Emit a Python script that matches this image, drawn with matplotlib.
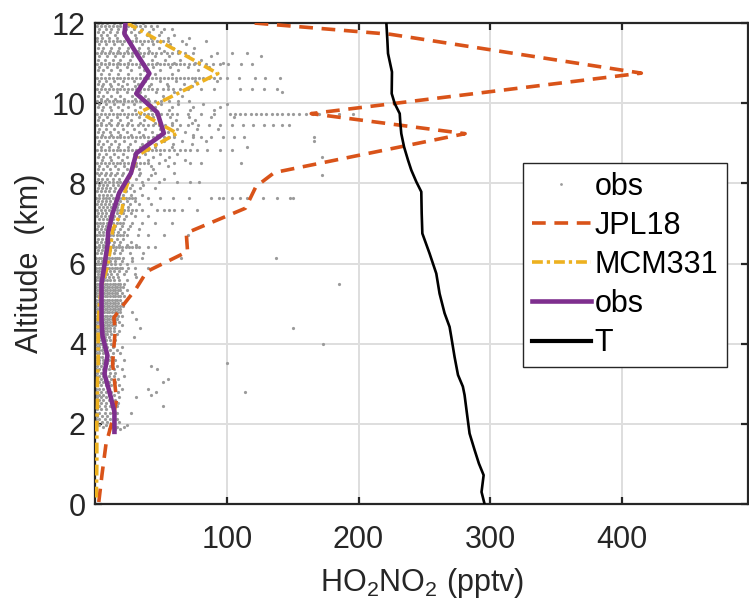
import numpy as np
import matplotlib
matplotlib.use('Agg')
import matplotlib.pyplot as plt
from matplotlib.lines import Line2D

plt.rcParams['font.family'] = ['Liberation Sans', 'DejaVu Sans']
plt.rcParams['mathtext.fontset'] = 'custom'
plt.rcParams['mathtext.rm'] = 'Liberation Sans'

# ---- model / obs profiles (x = HO2NO2 pptv, y = altitude km) ----
jpl_x = [121, 224, 415, 164, 281, 136, 122, 114, 69, 70, 39, 31, 21, 14, 15, 13, 16, 13, 8, 5, 2.5]
jpl_y = [12.0, 11.72, 10.75, 9.74, 9.24, 8.27, 7.92, 7.38, 6.76, 6.3, 5.8, 5.38, 4.96, 4.65, 4.33, 3.5, 2.6, 2.1, 1.5, 0.75, 0.05]

mcm_x = [24, 93, 33.5, 62, 32, 26, 22, 20, 13, 11, 9, 5, 3, 2, 2, 2, 1.5, 1.5, 1, 1, 1, 0.8, 0.5]
mcm_y = [12.0, 10.74, 9.77, 9.25, 8.7, 8.16, 7.76, 7.3, 6.84, 6.3, 5.9, 5.5, 5.0, 4.5, 4.0, 3.5, 3.0, 2.5, 2.0, 1.5, 1.0, 0.5, 0.1]

obs_x = [22.8, 22, 31, 41, 31, 47, 52, 31, 27, 18, 13, 9.5, 9.3, 7, 4.6, 4.6, 4.6, 5.3, 9.1, 6.8, 10.6, 14.4, 14.4]
obs_y = [12.0, 11.73, 11.25, 10.74, 10.24, 9.77, 9.25, 8.75, 8.26, 7.76, 7.25, 6.77, 6.5, 6.0, 5.5, 5.1, 4.6, 4.2, 3.7, 3.25, 2.8, 2.3, 1.8]

t_x = [221.1, 221.9, 222.4, 225.4, 225.2, 227.5, 231.3, 231.8, 232.5, 234.6, 237.6, 240.1, 243.9, 247.7,
       248.0, 248.5, 254.0, 259.1, 261.6, 265.4, 269.2, 270.5, 273.0, 275.6, 279.3, 280.6, 282.4, 284.4,
       288.2, 291.5, 295.1, 293.5, 295.8]
t_y = [12.03, 11.57, 11.24, 10.78, 10.24, 9.99, 9.74, 9.49, 9.24, 8.91, 8.58, 8.33, 8.04, 7.79,
       7.25, 6.75, 6.25, 5.75, 5.25, 4.76, 4.42, 4.17, 3.67, 3.22, 2.93, 2.72, 2.26, 1.76,
       1.35, 1.01, 0.72, 0.3, 0.0]

scatter_alt = [
    12.0, 11.92, 11.85, 11.78, 11.7, 11.62, 11.55, 11.47, 11.38, 11.3, 11.25, 11.17, 11.08, 11.0,
    10.97, 10.9, 10.82, 10.74, 10.64, 10.56, 10.48, 10.42, 10.35, 10.27, 10.18, 10.1, 10.06, 9.98,
    9.9, 9.82, 9.74, 9.66, 9.58, 9.5, 9.45, 9.36, 9.28, 9.2, 9.15, 9.06, 8.98, 8.9, 8.83, 8.74,
    8.66, 8.58, 8.52, 8.44, 8.36, 8.27, 8.2, 8.12, 8.04, 7.96, 7.88, 7.8, 7.72, 7.64, 7.56, 7.48,
    7.4, 7.34, 7.26, 7.18, 7.1, 7.02, 6.94, 6.86, 6.78, 6.7, 6.62, 6.54, 6.46, 6.42, 6.34, 6.26,
    6.15, 6.06, 5.98, 5.9, 5.82, 5.74, 5.66, 5.58, 5.5, 5.42, 5.34, 5.26, 5.18, 5.1, 5.02, 4.94,
    4.86, 4.78, 4.7, 4.62, 4.54, 4.46, 4.4, 4.32, 4.24, 4.16, 4.08, 4.0, 3.92, 3.84, 3.76, 3.68,
    3.6, 3.52, 3.45, 3.37, 3.28, 3.2, 3.12, 3.05, 2.97, 2.88, 2.8, 2.73, 2.68, 2.6, 2.52, 2.45,
    2.37, 2.28, 2.2, 2.12, 2.04, 1.98, 1.92, 1.86,
]
scatter_x = [
    [2, 5, 9, 14, 19, 24, 30, 36],
    [1, 4, 7, 10, 13, 16, 19, 22, 25, 28, 31, 34, 38, 42, 47],
    [3, 8, 12, 17, 23, 29, 35, 44, 52, 58],
    [2, 6, 11, 16, 21, 27, 33, 41, 50],
    [4, 9, 15, 22, 30, 39, 48, 60],
    [1, 5, 10, 16, 23, 31, 42, 55, 71],
    [1, 4, 7, 10, 13, 16, 19, 22, 25, 28, 31, 34, 37, 40, 43, 47, 51, 55, 66, 84],
    [3, 8, 14, 20, 27, 35, 44, 57, 69],
    [2, 6, 12, 18, 25, 33, 40, 48, 59, 75],
    [5, 11, 17, 24, 32, 41, 52, 63],
    [1, 4, 7, 10, 13, 16, 19, 22, 25, 28, 31, 34, 37, 40, 43, 46, 50, 54, 58, 63, 68, 74, 92, 104, 115],
    [3, 9, 15, 21, 28, 36, 45, 56, 70, 88, 126],
    [2, 7, 13, 19, 26, 34, 43, 53, 64, 80],
    [4, 10, 17, 25, 35, 47, 60, 76, 97],
    [1, 4, 7, 10, 13, 16, 19, 22, 25, 28, 31, 34, 37, 40, 43, 46, 49, 52, 55, 58, 61, 64, 67, 71, 75, 79, 84, 89, 95, 101, 111, 119],
    [3, 9, 16, 24, 33, 44, 57, 70, 86],
    [2, 6, 12, 19, 27, 37, 49, 63, 78],
    [4, 10, 17, 25, 34, 45, 58],
    [1, 4, 7, 10, 13, 16, 19, 22, 25, 28, 31, 34, 37, 40, 43, 46, 49, 52, 55, 58, 61, 64, 67, 70, 73, 76, 79, 82, 86, 90, 95, 100, 109, 121, 129, 140],
    [3, 8, 14, 21, 29, 38, 49, 61, 76, 92],
    [2, 6, 11, 17, 24, 32, 42, 54, 67],
    [5, 12, 20, 30, 41, 55, 73],
    [1, 4, 7, 10, 13, 16, 19, 22, 25, 28, 31, 34, 37, 40, 43, 47, 51, 55, 59, 64, 70, 80, 90, 110, 119, 128, 138],
    [3, 9, 16, 24, 34, 46, 60, 142],
    [2, 6, 12, 19, 28, 38, 51, 66],
    [4, 9, 15, 22, 30, 40, 52],
    [1, 4, 7, 10, 13, 16, 19, 22, 25, 28, 31, 34, 37, 41, 45, 50, 56, 63, 71],
    [3, 8, 14, 21, 29, 39, 50, 63, 82, 100],
    [2, 6, 11, 17, 25, 34, 45, 58, 74, 95],
    [5, 12, 20, 30, 42, 56, 72, 90],
    [1, 4, 7, 10, 13, 16, 19, 22, 25, 28, 31, 34, 37, 40, 43, 46, 50, 54, 58, 62, 70, 80, 90, 102, 106, 110, 114, 118, 122, 126, 130, 134, 138, 142, 146, 150, 155, 160, 165, 170, 185, 196],
    [3, 9, 16, 24, 33, 44, 57, 71, 88, 105],
    [2, 6, 12, 19, 27, 37, 48, 61, 76],
    [4, 10, 17, 25, 34, 45, 58, 73],
    [1, 4, 8, 12, 16, 20, 24, 28, 32, 36, 40, 44, 48, 53, 58, 64, 70, 78, 86, 95, 104, 112, 120, 128, 135, 142, 147],
    [3, 8, 14, 21, 29, 38, 49, 62, 77, 93],
    [2, 6, 11, 17, 24, 33, 43, 55, 68],
    [5, 12, 19, 27, 36, 47, 60, 74],
    [1, 4, 7, 10, 13, 16, 19, 22, 25, 28, 31, 34, 37, 40, 44, 48, 52, 56, 60, 74, 80, 88, 97, 105, 113, 166],
    [3, 9, 15, 22, 30, 40, 52, 66, 84, 166],
    [2, 6, 12, 18, 26, 35, 46, 59, 73],
    [4, 10, 17, 25, 34, 45, 58, 115],
    [1, 4, 7, 10, 13, 16, 19, 22, 25, 28, 31, 34, 37, 40, 43, 46, 49, 52, 56, 60, 64, 68, 72, 77, 85, 95, 104],
    [3, 8, 14, 21, 29, 38, 49, 62],
    [2, 6, 11, 17, 24, 33, 44, 56, 172],
    [5, 12, 20, 29, 40, 53, 68],
    [1, 4, 7, 10, 13, 16, 19, 22, 25, 28, 31, 34, 37, 40, 48, 60, 72, 80, 111],
    [3, 9, 15, 22, 31, 42, 55],
    [2, 6, 11, 17, 24, 33, 44],
    [1, 4, 8, 12, 16, 21, 27, 34, 45, 60],
    [3, 7, 11, 15, 20, 26, 33, 42, 172],
    [2, 5, 9, 13, 18, 24, 31, 40, 52],
    [1, 4, 7, 10, 13, 16, 19, 22, 25, 35, 48, 62, 72, 79],
    [3, 6, 9, 13, 17, 22, 28, 36],
    [2, 5, 8, 11, 15, 20, 26, 34, 45],
    [1, 4, 7, 10, 14, 18, 23, 29],
    [3, 6, 9, 12, 16, 21, 27, 35],
    [0.5, 3, 5.5, 8, 10.5, 13, 15.5, 18, 20.5, 23, 25.5, 28, 30, 40, 49, 59, 71, 88, 94, 97, 104, 110, 115, 127, 138, 148, 150],
    [2, 5, 8, 11, 15, 19, 24, 30],
    [1, 4, 7, 10, 13, 17, 21, 26, 33, 42],
    [3, 6, 9, 12, 16, 20, 25],
    [1, 4, 7, 10, 13, 16, 19, 22, 25, 28, 31, 35, 47, 52, 56, 60, 66, 77],
    [2, 5, 8, 12, 16, 21, 27],
    [1, 4, 7, 10, 14, 18, 23, 30, 40],
    [3, 6, 9, 13, 17, 22],
    [1, 3.5, 6, 8.5, 11, 13.5, 16, 18.5, 21, 28, 35, 45, 58],
    [2, 5, 8, 11, 15, 20, 26],
    [1, 4, 7, 10, 14, 19, 25, 33],
    [3, 6, 9, 13, 17, 22],
    [1, 3.5, 6, 8.5, 11, 13.5, 16, 18.5, 21, 24, 32, 40, 52, 70],
    [2, 5, 8, 12, 16, 21],
    [1, 4, 7, 10, 14, 19, 27],
    [3, 6, 9, 13, 18, 24, 31],
    [0.5, 3, 5.5, 8, 10.5, 13, 15.5, 18, 20.5, 23, 25.5, 28, 30.5, 33, 40, 45],
    [2, 5, 8, 11, 15, 20],
    [1, 4, 7, 10, 14, 19, 26, 36],
    [0.5, 2.5, 4.5, 6.5, 8.5, 10.5, 12.5, 14.5, 16.5, 18, 21, 28, 35, 65, 137],
    [2, 5, 8, 11, 15, 20, 28],
    [1, 3, 5, 7, 9, 12, 15, 19, 24],
    [0.5, 2.5, 4.5, 6.5, 8.5, 10.5, 12.5, 14.5, 16.5, 18.5, 20, 25, 30, 40],
    [1, 3, 5, 8, 11, 14, 18, 23],
    [2, 4, 6, 9, 12, 16, 22, 30],
    [1, 3, 5, 7, 10, 13, 17, 31],
    [0.5, 2.5, 4.5, 6.5, 8.5, 11, 14, 18, 24],
    [1, 3, 5, 7, 9, 11, 13, 15, 17, 19, 22, 185],
    [0.5, 2.5, 4.5, 6.5, 8.5, 10.5, 12.5, 14.5, 16.5, 18.5, 21],
    [1, 3, 5, 7, 9, 11, 13, 15, 17, 19, 24],
    [0.5, 2.5, 4.5, 6.5, 8.5, 10.5, 12.5, 14.5, 16.5, 20],
    [1, 3, 5, 7, 9, 11, 13, 15, 17, 19, 22],
    [0.5, 2.5, 4.5, 6.5, 8.5, 10.5, 12.5, 14.5, 16.5, 18.5],
    [1, 3, 5, 7, 9, 11, 13, 15, 17, 20],
    [0.5, 2.5, 4.5, 6.5, 8.5, 10.5, 12.5, 14.5, 16.5, 18.5, 21],
    [1, 3, 5, 7, 9, 11, 13, 15, 17, 19],
    [0.5, 2.5, 4.5, 6.5, 8.5, 10.5, 12.5, 14.5, 16.5, 18.5, 28],
    [1, 3, 5, 7, 9, 11, 13, 15, 17, 20],
    [0.5, 2.5, 4.5, 6.5, 8.5, 10.5, 12.5, 14.5, 16.5, 31],
    [1, 3, 5, 7, 9, 11, 13, 15, 18],
    [0.5, 2.5, 4.5, 6.5, 8.5, 10.5, 12.5, 15, 20],
    [1, 3, 5, 7, 9, 11, 14, 34, 150],
    [0.5, 2.5, 4.5, 6.5, 8.5, 11, 14, 18],
    [1, 3, 5, 7, 9, 12, 16],
    [0.5, 2.5, 4.5, 7, 10, 14, 29],
    [1, 3, 5, 8, 11, 15],
    [0.5, 2.5, 5, 8, 12, 173],
    [1, 3, 6, 9, 13, 20],
    [0.5, 2.5, 5, 8, 11, 16],
    [1, 3, 6, 9, 13, 19],
    [0.5, 2.5, 5, 8, 12],
    [1, 3, 6, 10, 15, 22],
    [0.5, 3, 6, 9, 13, 100],
    [1, 4, 7, 11, 16, 42],
    [0.5, 3, 6, 10, 14, 20, 47],
    [1, 4, 7, 11, 15],
    [0.5, 3, 6, 10, 14, 22],
    [1, 4, 8, 12, 17, 55],
    [0.5, 3, 6, 10, 15, 51],
    [1, 4, 8, 12, 18],
    [0.5, 3, 6, 10, 15, 20, 40],
    [1, 4, 8, 12, 17, 46, 114],
    [0.5, 3, 6, 10, 14, 42],
    [1, 4, 8, 12, 18, 31],
    [0.5, 3, 6, 10, 15],
    [1, 4, 8, 12, 17],
    [0.5, 3, 7, 11, 16, 51],
    [1, 4, 8, 13],
    [0.5, 3, 7, 11, 16, 27],
    [1, 5, 9, 14],
    [0.5, 3, 7, 11, 16],
    [1, 5, 9, 14, 18],
    [3, 8, 13, 24],
    [6, 12, 16, 22],
    [10, 15, 19],
]

x_ticks = [100, 200, 300, 400]
y_ticks = [0, 2, 4, 6, 8, 10, 12]

c_jpl = '#D95319'
c_mcm = '#EDB120'
c_obs = '#7E2F8E'
c_dot = '#9b9b9b'
c_ax = '#262626'
fs = 22

sc_x = np.concatenate([np.array(xs, dtype=float) for xs in scatter_x])
sc_y = np.concatenate([np.full(len(xs), a) for a, xs in zip(scatter_alt, scatter_x)])

fig = plt.figure(figsize=(7.49, 6.06), dpi=100)
ax = fig.add_axes([0.1275, 0.1683, 0.871, 0.7937])

ax.plot(sc_x, sc_y, 'o', ms=2.3, mew=0, color=c_dot, zorder=2)
ax.plot(jpl_x, jpl_y, color=c_jpl, lw=2.6, dashes=(3.8, 2.4), zorder=3)
ax.plot(mcm_x, mcm_y, color=c_mcm, lw=2.6, dashes=(3.0, 1.1, 0.9, 1.1), zorder=4)
ax.plot(obs_x, obs_y, color=c_obs, lw=3.3, zorder=5)
ax.plot(t_x, t_y, color='black', lw=1.9, zorder=6)

ax.set_xlim(0, 496)
ax.set_ylim(0, 12)
ax.set_xticks(x_ticks)
ax.set_yticks(y_ticks)
ax.grid(True, color='#dedede', lw=1.4)
ax.set_axisbelow(True)
for sp in ax.spines.values():
    sp.set_color(c_ax)
    sp.set_linewidth(1.6)
ax.tick_params(direction='in', length=5, width=1.6, color=c_ax, top=True, right=True,
               labelsize=fs, labelcolor=c_ax)
ax.tick_params(axis='x', pad=15)
ax.tick_params(axis='y', pad=7)

ax.set_xlabel('HO$_\\mathregular{2}$NO$_\\mathregular{2}$ (pptv)', fontsize=fs, color=c_ax, labelpad=8)
ax.set_ylabel('Altitude  (km)', fontsize=fs, color=c_ax, labelpad=5)

handles = [
    Line2D([], [], ls='none', marker='o', ms=2.0, mew=0, color=c_dot),
    Line2D([], [], color=c_jpl, lw=2.6, dashes=(3.8, 2.4)),
    Line2D([], [], color=c_mcm, lw=2.6, dashes=(3.0, 1.1, 0.9, 1.1)),
    Line2D([], [], color=c_obs, lw=3.3),
    Line2D([], [], color='black', lw=3.0),
]
labels = ['obs', 'JPL18', 'MCM331', 'obs', 'T']
leg = ax.legend(handles, labels, loc='upper right', bbox_to_anchor=(0.968, 0.709),
                borderaxespad=0, fontsize=fs, handlelength=1.95, handletextpad=0.12,
                labelspacing=0.3, borderpad=0.28, fancybox=False, framealpha=1,
                edgecolor=c_ax)
leg.get_frame().set_linewidth(1.0)
for t in leg.get_texts():
    t.set_color('black')

plt.savefig('out.png', dpi=100)
